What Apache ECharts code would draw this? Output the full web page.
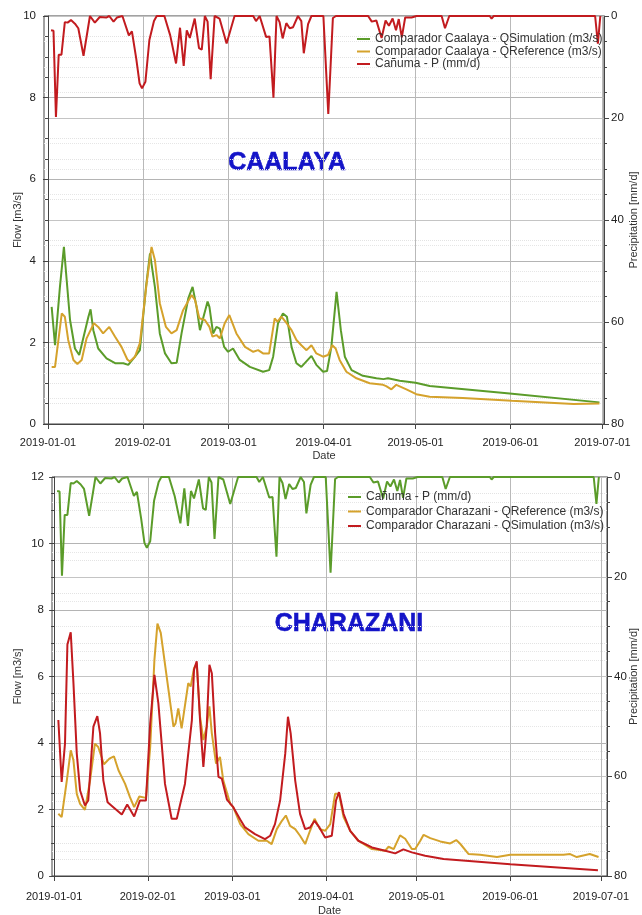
<!DOCTYPE html>
<html>
<head>
<meta charset="utf-8">
<title>Caalaya / Charazani</title>
<script src="https://cdn.jsdelivr.net/npm/echarts@6/dist/echarts.min.js"></script>
<style>
  html, body { margin: 0; padding: 0; background: #fff; }
  #chart { width: 642px; height: 915px; }
</style>
</head>
<body>
<div id="chart"></div>
<script>
// [days after 2019-01-01, value]
var precipCanuma = [[1.0,2.8],[1.8,2.9],[2.6,19.8],[3.5,7.6],[4.4,7.6],[5.5,1.2],[6.4,1.3],[7.5,0.8],[8.8,1.5],[9.9,2.4],[11.6,7.8],[13.7,0],[15.3,1.3],[16.9,0.2],[19,0.3],[20,0],[21.4,1.1],[22.5,0.3],[24.3,0],[26.4,3.8],[27.4,3.0],[28.8,8.3],[29.9,13.2],[30.7,14.2],[31.8,12.9],[33.1,4.7],[34.6,1.0],[35.5,0],[38,0],[39.9,3.8],[41.8,9.3],[43.1,2.3],[44.3,9.8],[45.3,2.8],[46.3,4.3],[47.9,0.5],[49.3,6.3],[50.2,6.6],[51.2,0],[52.1,1.1],[53.1,12.4],[54.4,0],[56,0.5],[58.3,5.4],[60.9,0],[67,0],[67.9,1.0],[69.1,0],[71.2,4.1],[72.3,4.0],[73.6,16],[74.6,0],[75.6,1.2],[76.6,4.4],[77.8,1.4],[78.9,2.4],[80,2.2],[81.6,0],[82.7,1.0],[83.5,7.3],[84.9,1.6],[86,0],[89.9,0],[91.5,19.2],[93,0.4],[94,0],[104.5,0],[105.7,1.1],[107.2,0.9],[108.9,4.3],[110.2,0.9],[111.3,1.9],[112.5,0.5],[113.6,2.8],[114.5,0.6],[115.5,4.2],[116.6,0.3],[118.7,0.3],[120.3,0],[128.5,0],[129.6,2.4],[131,0],[144.2,0],[144.8,0.5],[145.5,0],[178.6,0],[179.5,5.4],[180.3,0]];

var caalayaSim = [[1.2,2.87],[2.3,1.93],[3.9,3.36],[5.2,4.34],[6.1,3.53],[7.2,2.55],[8.8,1.85],[10.2,1.69],[13.2,2.63],[13.9,2.81],[14.8,2.30],[16.4,1.85],[19.1,1.61],[21.9,1.49],[24.6,1.49],[26.2,1.45],[28.4,1.65],[30.0,1.81],[32.0,3.36],[33.3,4.18],[34.9,3.36],[36.5,2.22],[38.2,1.73],[40.3,1.49],[42.0,1.50],[43.6,2.22],[45.8,3.08],[47.2,3.36],[48.5,2.87],[49.6,2.30],[50.2,2.27],[52.1,3.00],[52.7,2.87],[53.9,2.22],[55.0,2.38],[56.1,2.34],[57.5,1.89],[58.8,1.77],[60.4,1.85],[62.6,1.57],[65.9,1.40],[70.2,1.28],[72.2,1.32],[73.5,1.65],[75.1,2.47],[76.7,2.71],[78.0,2.63],[79.5,1.89],[81.1,1.49],[82.7,1.40],[86.0,1.67],[87.6,1.45],[89.8,1.28],[91.1,1.30],[92.5,1.89],[94.2,3.24],[95.6,2.30],[96.9,1.65],[99.1,1.32],[102.8,1.18],[107.2,1.12],[109.5,1.10],[111,1.12],[114.8,1.06],[120,1.01],[124.6,0.93],[150.7,0.75],[180,0.53]];

var caalayaRef = [[1.2,1.40],[2.3,1.40],[4.5,2.71],[5.5,2.63],[6.6,2.06],[8.3,1.57],[9.6,1.47],[11.0,1.57],[12.6,2.10],[15.0,2.47],[16.4,2.38],[18.0,2.22],[20.0,2.38],[21.9,2.14],[24.0,1.89],[25.9,1.58],[26.7,1.53],[28.4,1.65],[30.0,1.98],[32.2,3.45],[33.8,4.34],[34.9,4.02],[36.5,2.96],[38.5,2.38],[40.3,2.22],[42.0,2.30],[44.1,2.79],[46.9,3.16],[48.0,3.04],[49.4,2.59],[51.2,2.55],[52.7,2.38],[53.7,2.14],[55.0,2.18],[56.1,2.10],[57.7,2.47],[59.2,2.67],[61.5,2.22],[64.3,1.89],[67.0,1.77],[68.6,1.81],[70.2,1.73],[72.2,1.73],[74.0,2.59],[74.9,2.51],[76.2,2.63],[77.9,2.47],[79.5,2.30],[81.1,2.06],[82.7,1.93],[84.4,1.81],[86.0,1.93],[87.6,1.73],[89.8,1.65],[91.4,1.69],[92.8,1.93],[93.9,1.85],[95.2,1.57],[97.4,1.28],[100.7,1.12],[105.0,1.00],[109.4,0.96],[110.4,0.93],[112.1,0.85],[113.7,0.96],[117.0,0.85],[120.2,0.73],[124.6,0.67],[135.4,0.64],[151.4,0.57],[171.6,0.49],[180,0.50]];

var charazaniSim = [[1.4,4.69],[2.5,2.83],[3.6,3.98],[4.4,6.96],[5.5,7.33],[6.4,5.80],[7.5,3.68],[8.6,2.57],[10.2,2.12],[11.3,2.27],[13.0,4.49],[14.3,4.81],[15.2,4.29],[16.3,2.87],[17.7,2.22],[19.6,2.07],[22.4,1.85],[24.2,2.15],[26.5,1.79],[28.4,2.27],[30.4,2.27],[31.8,4.59],[33.2,6.05],[34.5,5.20],[36.7,2.77],[38.9,1.72],[40.6,1.72],[43.3,2.77],[45.6,4.69],[46.3,6.20],[47.2,6.46],[48.3,4.69],[49.4,3.28],[50.5,4.49],[51.4,6.35],[52.2,6.10],[53.3,4.29],[54.4,2.98],[55.5,2.93],[57.2,2.30],[59.3,2.07],[61.6,1.70],[63.2,1.46],[66.5,1.26],[69.8,1.11],[71.5,1.21],[73.1,1.56],[74.8,2.27],[76.5,3.68],[77.4,4.79],[78.3,4.29],[79.8,2.87],[81.4,1.87],[83.1,1.41],[84.7,1.46],[86.2,1.66],[87.8,1.46],[89.7,1.16],[91.9,1.21],[93.3,2.27],[94.3,2.52],[95.8,1.87],[98.0,1.36],[100.7,1.06],[105.2,0.86],[109.6,0.76],[112.9,0.68],[115.6,0.80],[118.4,0.71],[122.8,0.61],[128.9,0.51],[151.0,0.35],[180.0,0.17]];

var charazaniRef = [[1.4,1.87],[2.5,1.77],[4.2,2.87],[5.5,3.78],[6.4,3.48],[7.5,2.47],[8.6,2.17],[10.2,1.99],[11.9,2.87],[13.5,3.98],[14.6,3.88],[16.5,3.36],[18.3,3.53],[19.8,3.60],[21.3,3.18],[23.5,2.77],[25.1,2.37],[26.5,2.07],[28.2,2.39],[30.4,2.35],[31.8,3.88],[33.2,6.50],[34.2,7.59],[35.3,7.31],[37.1,6.10],[39.5,4.49],[40.2,4.59],[41.1,5.04],[42.2,4.44],[44.4,5.80],[45.2,5.70],[46.3,6.25],[47.2,6.40],[48.3,4.79],[49.4,4.09],[50.5,4.49],[51.4,5.10],[52.2,4.29],[53.6,3.38],[54.9,3.58],[56.0,2.87],[58.3,2.17],[59.3,2.07],[61.6,1.56],[64.3,1.26],[67.6,1.06],[70.4,1.06],[72.0,0.96],[73.7,1.41],[75.4,1.66],[76.7,1.82],[78.1,1.51],[79.8,1.41],[81.4,1.21],[83.1,0.96],[84.7,1.36],[86.2,1.72],[88.0,1.41],[89.7,1.36],[91.4,1.56],[93.0,2.47],[94.3,2.47],[95.8,1.77],[98.0,1.36],[100.7,1.06],[105.2,0.81],[109.6,0.76],[110.7,0.88],[112.4,0.81],[114.5,1.22],[116.2,1.12],[118.4,0.81],[119.5,0.81],[121.2,1.06],[122.3,1.24],[124.5,1.14],[127.8,1.04],[131.1,0.98],[133.1,1.08],[134.4,0.97],[137.2,0.66],[141.0,0.64],[146.6,0.57],[151.0,0.64],[160.8,0.64],[168.6,0.64],[170.8,0.66],[173.0,0.57],[177.3,0.66],[180.2,0.57]];

var monthStarts = ['2019-01-01','2019-02-01','2019-03-01','2019-04-01','2019-05-01','2019-06-01','2019-07-01'];

var nameSimA = 'Comparador Caalaya - QSimulation (m3/s)';
var nameRefA = 'Comparador Caalaya - QReference (m3/s)';
var nameP = 'Cañuma - P (mm/d)';
var nameRefB = 'Comparador Charazani - QReference (m3/s)';
var nameSimB = 'Comparador Charazani - QSimulation (m3/s)';

var GREEN = '#5b9c2a', GOLD = '#d5a22c', RED = '#c21b1f', TITLE_BLUE = '#1414c8';
var FONT = "'Liberation Sans', Arial, sans-serif";

// x axis is a value axis counted in days after 2019-01-01
var DAY = 86400000;
var T0 = Date.UTC(2019, 0, 1);
function dayOf(s) {
  var a = s.split('-');
  return Math.round((Date.UTC(+a[0], +a[1] - 1, +a[2]) - T0) / DAY);
}
var tickDays = monthStarts.map(dayOf);
function fmtDay(v) {
  var i = tickDays.indexOf(Math.round(v));
  return i >= 0 ? monthStarts[i] : '';
}

function dayAxis(gi, minDay, maxDay, labelMargin, nameGap) {
  return {
    type: 'value', gridIndex: gi, min: minDay, max: maxDay,
    name: 'Date', nameLocation: 'middle', nameGap: nameGap, nameMoveOverlap: false,
    nameTextStyle: { fontSize: 11, color: '#333', fontFamily: FONT },
    axisLine: { show: true, onZero: false, lineStyle: { color: '#444' } },
    axisTick: { show: true, length: 5, customValues: tickDays, lineStyle: { color: '#444' } },
    axisLabel: { customValues: tickDays, formatter: fmtDay, fontSize: 11, color: '#222', margin: labelMargin, hideOverlap: false, fontFamily: FONT },
    splitLine: { show: true, lineStyle: { color: '#b9b9b9' } }
  };
}
function flowAxis(gi, max, nameGap) {
  return {
    type: 'value', gridIndex: gi, position: 'left', min: 0, max: max, interval: 2,
    name: 'Flow [m3/s]', nameLocation: 'middle', nameGap: nameGap, nameMoveOverlap: false,
    nameTextStyle: { fontSize: 11, color: '#333', fontFamily: FONT },
    axisLine: { show: true, lineStyle: { color: '#444' } },
    axisTick: { show: true, length: 5, lineStyle: { color: '#444' } },
    minorTick: { show: true, splitNumber: 4, length: 3, lineStyle: { color: '#444' } },
    axisLabel: { fontSize: 11.5, color: '#222', margin: 8, fontFamily: FONT },
    splitLine: { show: true, lineStyle: { color: '#b4b4b4' } },
    minorSplitLine: { show: true, lineStyle: { color: '#e3e3e3', type: 'dotted' } }
  };
}
function precipAxis(gi, nameGap) {
  return {
    type: 'value', gridIndex: gi, position: 'right', inverse: true, min: 0, max: 80, interval: 20,
    name: 'Precipitation [mm/d]', nameLocation: 'middle', nameGap: nameGap, nameRotate: 90, nameMoveOverlap: false,
    nameTextStyle: { fontSize: 11, color: '#333', fontFamily: FONT },
    axisLine: { show: true, lineStyle: { color: '#444' } },
    axisTick: { show: true, length: 5, lineStyle: { color: '#444' } },
    minorTick: { show: true, splitNumber: 4, length: 3, lineStyle: { color: '#444' } },
    axisLabel: { fontSize: 11.5, color: '#222', margin: 7, fontFamily: FONT },
    splitLine: { show: true, lineStyle: { color: '#c4c4c4' } },
    minorSplitLine: { show: true, lineStyle: { color: '#e6e6e6', type: 'dotted' } }
  };
}
function line(name, data, color, xi, yi) {
  return {
    name: name, type: 'line', xAxisIndex: xi, yAxisIndex: yi,
    data: data, showSymbol: false, symbol: 'none',
    lineStyle: { color: color, width: 2 }, itemStyle: { color: color }
  };
}
function legendItem(name, color) {
  return { name: name, itemStyle: { color: color }, lineStyle: { color: color } };
}
function legendBox(items, left, top, gap) {
  return {
    orient: 'vertical', left: left, top: top, padding: 0, itemGap: gap,
    icon: 'rect', itemWidth: 13, itemHeight: 2, selectedMode: false,
    textStyle: { fontSize: 12, color: '#333', fontFamily: FONT },
    data: items
  };
}
function stamp(text, x, y) {
  return {
    type: 'text', x: x, y: y,
    style: {
      text: text, align: 'center', verticalAlign: 'middle', font: 'bold 25px ' + FONT,
      fill: TITLE_BLUE, stroke: TITLE_BLUE, lineWidth: 0.6,
      shadowColor: 'rgba(40,40,220,0.45)', shadowBlur: 2, shadowOffsetX: 1, shadowOffsetY: 1
    }
  };
}

var chart = echarts.init(document.getElementById('chart'));
chart.setOption({
  animation: false,
  backgroundColor: '#fff',
  textStyle: { fontFamily: FONT },
  grid: [
    { left: 44, top: 16, width: 560, height: 408, show: true, borderColor: '#444', borderWidth: 1, containLabel: false, outerBoundsMode: 'none' },
    { left: 52, top: 477, width: 555, height: 399, show: true, borderColor: '#444', borderWidth: 1, containLabel: false, outerBoundsMode: 'none' }
  ],
  xAxis: [dayAxis(0, -1.3, 181.5, 13, 26), dayAxis(1, -0.7, 183.0, 15, 29)],
  yAxis: [flowAxis(0, 10, 21), precipAxis(0, 24), flowAxis(1, 12, 29), precipAxis(1, 21)],
  legend: [
    legendBox([legendItem(nameSimA, GREEN), legendItem(nameRefA, GOLD), legendItem(nameP, RED)], 357, 33, 0.5),
    legendBox([legendItem(nameP, GREEN), legendItem(nameRefB, GOLD), legendItem(nameSimB, RED)], 348, 491, 2.5)
  ],
  graphic: [stamp('CAALAYA', 287, 163), stamp('CHARAZANI', 349, 624)],
  series: [
    line(nameSimA, caalayaSim, GREEN, 0, 0),
    line(nameRefA, caalayaRef, GOLD, 0, 0),
    line(nameP, precipCanuma, RED, 0, 1),
    line(nameP, precipCanuma, GREEN, 1, 3),
    line(nameRefB, charazaniRef, GOLD, 1, 2),
    line(nameSimB, charazaniSim, RED, 1, 2)
  ]
});
</script>
</body>
</html>
